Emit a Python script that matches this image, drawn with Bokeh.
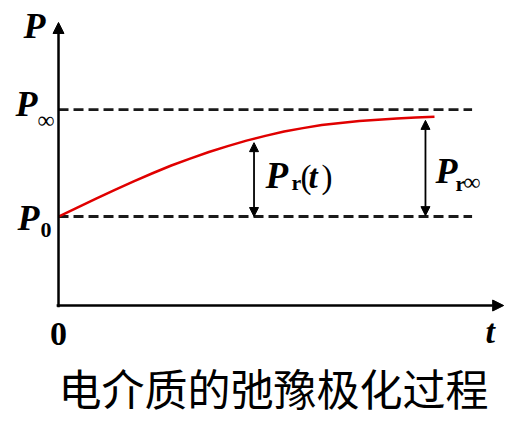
from bokeh.plotting import figure
from bokeh.models import Arrow, NormalHead, Range1d
from bokeh.core.properties import value
from bokeh.embed import file_html
from bokeh.resources import INLINE

# relaxation curve P(t), read at half-steps of t
t_vals = [0, 0.5, 1, 1.5, 2, 2.5, 3, 3.5, 4, 4.5, 5,
          5.5, 6, 6.5, 7, 7.5, 8, 8.5, 9, 9.5, 10]
p_vals = [1.0, 1.101, 1.2, 1.299, 1.395, 1.486, 1.573, 1.651, 1.725, 1.791, 1.853,
          1.906, 1.955, 1.993, 2.027, 2.051, 2.072, 2.088, 2.102, 2.113, 2.122]

P0 = 1.0        # initial polarization level
P_INF = 2.2     # final polarization level
T_DASH_END = 11.0
T_AXIS_END = 11.84
P_AXIS_END = 3.18

# marker arrows: (t, bottom, top)
arrow_t = [5.2, 9.76]
arrow_bottom = [1.0, 1.01]
arrow_top = [1.83, 2.08]

caption = "电介质的弛豫极化过程"

SERIF = value("Liberation Serif")

p = figure(width=514, height=425, output_backend="svg", toolbar_location=None,
           x_axis_location=None, y_axis_location=None,
           x_range=Range1d(-1.543, 12.128), y_range=Range1d(-1.348, 3.427),
           min_border=0, min_border_left=0, min_border_right=0,
           min_border_top=0, min_border_bottom=0)
p.grid.visible = False
p.outline_line_color = None
p.background_fill_color = "white"
p.border_fill_color = "white"

# reference levels
for level in (P_INF, P0):
    p.line([0, T_DASH_END], [level, level], line_color="#1a1a1a", line_width=2.8,
           line_dash="10 5")

# axes with arrow heads
p.add_layout(Arrow(x_start=0, y_start=-0.02, x_end=0, y_end=P_AXIS_END, line_width=2.5,
                   line_color="black",
                   end=NormalHead(size=11, fill_color="black", line_color="black")))
p.add_layout(Arrow(x_start=-0.05, y_start=0, x_end=T_AXIS_END, y_end=0, line_width=2.5,
                   line_color="black",
                   end=NormalHead(size=11, fill_color="black", line_color="black")))

# relaxation curve
p.line(t_vals, p_vals, line_color="#e00000", line_width=2.5, line_join="round")

# double-headed marker arrows
for t, b, tp in zip(arrow_t, arrow_bottom, arrow_top):
    p.add_layout(Arrow(x_start=t, y_start=b, x_end=t, y_end=tp, line_width=1.8,
                       line_color="black",
                       start=NormalHead(size=9, fill_color="black", line_color="black"),
                       end=NormalHead(size=9, fill_color="black", line_color="black")))


def txt(x, y, s, size, style="normal", align="left", baseline="alphabetic", font=SERIF,
        lift=True):
    # lift the text so its baseline sits on y
    if lift:
        y = y + 0.33 * size / 89.0
    p.text(x=[x], y=[y], text=[s], text_font=font, text_font_size=f"{size}px",
           text_font_style=style, text_align=align, text_baseline=baseline,
           text_color="black")


# axis labels
txt(-0.931, 3.011, "P", 36, "bold italic")
txt(-1.144, 2.135, "P", 36, "bold italic")
txt(-0.559, 2.0, "∞", 24)
txt(-1.090, 0.854, "P", 36, "bold italic")
txt(-0.479, 0.764, "0", 22, "bold")
txt(0, -0.449, "0", 34, "bold", align="center")
txt(11.36, -0.416, "t", 34, "bold italic")

# P_r(t)
txt(5.505, 1.326, "P", 37, "bold italic")
txt(6.197, 1.303, "r", 22, "bold")
txt(6.436, 1.326, "(", 33)
txt(6.649, 1.326, "t", 33, "bold italic")
txt(6.995, 1.326, ")", 33)

# P_r∞
txt(10.027, 1.382, "P", 36, "bold italic")
txt(10.559, 1.292, "r", 22, "bold")
txt(10.771, 1.303, "∞", 24)

# caption
txt(5.72, -0.921, caption, 43, align="center", baseline="middle",
    font=value("Noto Sans CJK SC"), lift=False)

open("out.html", "w").write(file_html(p, INLINE))
